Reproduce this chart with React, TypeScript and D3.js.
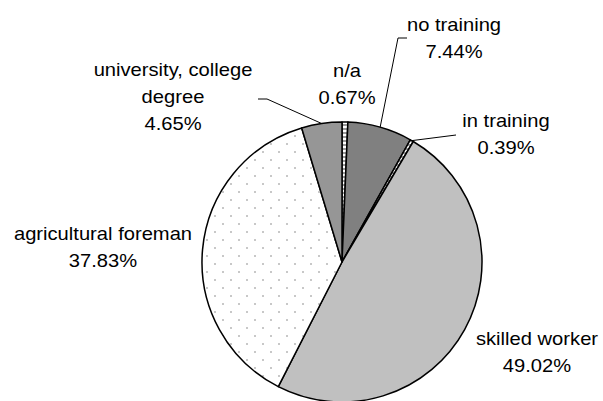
import React from "react";
import * as d3 from "d3";

const categories = ["n/a", "no training", "in training", "skilled worker", "agricultural foreman", "university, college degree"];
const shares = [0.67, 7.44, 0.39, 49.02, 37.83, 4.65];
const labelLines = [["n/a"], ["no training"], ["in training"], ["skilled worker"], ["agricultural foreman"], ["university, college", "degree"]];
const valueLabels = ["0.67%", "7.44%", "0.39%", "49.02%", "37.83%", "4.65%"];

// layout (not data)
const W = 603, H = 401;
const CX = 342, CY = 262, R = 140;
const fills = ["url(#hatchThin)", "#808080", "url(#hatchThin)", "#c0c0c0", "url(#dots)", "#969696"];
// label anchor: center x, first baseline y; leader: elbow points from label side
const labelPos: { x: number; y: number; leader: [number, number][] | null }[] = [
  { x: 347, y: 77, leader: null },
  { x: 454, y: 31, leader: [[407, 38], [398, 38]] },
  { x: 506, y: 127, leader: [[456, 135]] },
  { x: 537, y: 345, leader: null },
  { x: 103, y: 240, leader: null },
  { x: 173, y: 76, leader: [[258, 99], [267, 99]] },
];
const LH = 27;
const FS = 18;
const SX = 1.12;

export default function App() {
  const pie = d3.pie<number>().sort(null).value((d) => d).startAngle(0).endAngle(2 * Math.PI);
  const arcs = pie(shares);
  const arc = d3.arc<d3.PieArcDatum<number>>().innerRadius(0).outerRadius(R);
  const edge = d3.arc<d3.PieArcDatum<number>>().innerRadius(R).outerRadius(R);

  return (
    <svg width={W} height={H} style={{ position: "absolute", left: 0, top: 0, background: "#fff" }}
      fontFamily="'Liberation Sans', Arial, sans-serif">
      <defs>
        <pattern id="dots" width={16} height={16} patternUnits="userSpaceOnUse" x={CX} y={CY}>
          <rect width={16} height={16} fill="#ffffff" />
          <rect x={2} y={3} width={2} height={2} fill="#c8c8c8" />
          <rect x={10} y={11} width={2} height={2} fill="#c8c8c8" />
        </pattern>
        <pattern id="hatchThin" width={4} height={4} patternUnits="userSpaceOnUse">
          <rect width={4} height={4} fill="#9a9a9a" />
          <rect x={0} y={0} width={4} height={2} fill="#ffffff" />
        </pattern>
      </defs>
      <g transform={`translate(${CX},${CY})`}>
        {arcs.map((a, i) => (
          <path key={categories[i]} d={arc(a) || ""} fill={fills[i]} stroke="#000" strokeWidth={1.5} strokeLinejoin="round" />
        ))}
      </g>
      {arcs.map((a, i) => {
        const lp = labelPos[i];
        if (!lp.leader) return null;
        const [ex, ey] = edge.centroid(a);
        const pts: [number, number][] = [...lp.leader, [ex + CX, ey + CY]];
        return <path key={"l" + i} d={d3.line()(pts) || ""} fill="none" stroke="#000" strokeWidth={1} />;
      })}
      {labelLines.map((lines, i) => {
        const lp = labelPos[i];
        const all = [...lines, valueLabels[i]];
        return (
          <g key={"t" + i} transform={`translate(${lp.x},${lp.y}) scale(${SX},1)`}>
            {all.map((t, j) => (
              <text key={j} x={0} y={j * LH} textAnchor="middle" fontSize={FS} fill="#000">{t}</text>
            ))}
          </g>
        );
      })}
    </svg>
  );
}
